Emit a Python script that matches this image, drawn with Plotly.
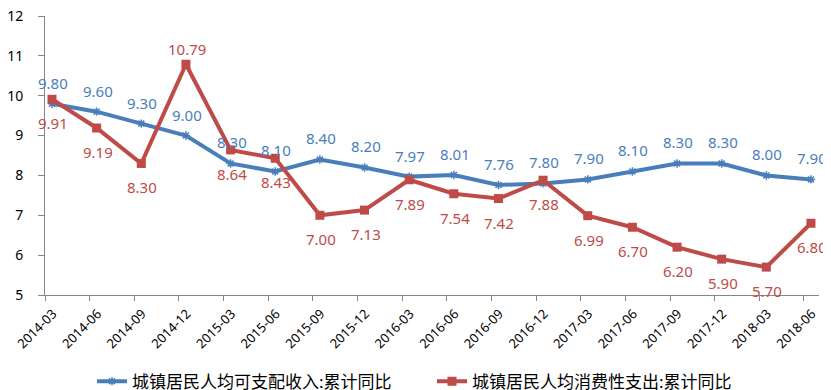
import plotly.graph_objects as go

categories = ["2014-03", "2014-06", "2014-09", "2014-12", "2015-03", "2015-06", "2015-09", "2015-12",
              "2016-03", "2016-06", "2016-09", "2016-12", "2017-03", "2017-06", "2017-09", "2017-12",
              "2018-03", "2018-06"]
income = [9.80, 9.60, 9.30, 9.00, 8.30, 8.10, 8.40, 8.20, 7.97, 8.01, 7.76, 7.80, 7.90, 8.10, 8.30, 8.30, 8.00, 7.90]
spending = [9.91, 9.19, 8.30, 10.79, 8.64, 8.43, 7.00, 7.13, 7.89, 7.54, 7.42, 7.88, 6.99, 6.70, 6.20, 5.90, 5.70, 6.80]
y_ticks = [5, 6, 7, 8, 9, 10, 11, 12]
income_name = "城镇居民人均可支配收入:累计同比"
spending_name = "城镇居民人均消费性支出:累计同比"

BLUE = "#4A7EBB"
RED = "#BE4B48"
FONT = "Noto Sans, Noto Sans CJK SC, sans-serif"

x = list(range(len(categories)))

fig = go.Figure()
fig.add_trace(go.Scatter(
    x=x, y=income, name=income_name, mode="lines+markers",
    line=dict(color=BLUE, width=4),
    marker=dict(symbol="asterisk-open", size=7, color=BLUE, line=dict(color=BLUE, width=1.5)),
    cliponaxis=False,
))
fig.add_trace(go.Scatter(
    x=x, y=spending, name=spending_name, mode="lines+markers",
    line=dict(color=RED, width=4),
    marker=dict(symbol="square", size=9, color=RED),
    cliponaxis=False,
))

annotations = []
for xi, v in zip(x, income):
    annotations.append(dict(x=xi, y=v, text=f"{v:.2f}", showarrow=False, yshift=21, xshift=1,
                            font=dict(color=BLUE, size=15, family=FONT)))
for xi, v in zip(x, spending):
    up = v > 10
    annotations.append(dict(x=xi, y=v, text=f"{v:.2f}", showarrow=False, yshift=15 if up else -24, xshift=1,
                            font=dict(color=RED, size=15, family=FONT)))

fig.update_layout(
    width=831, height=390,
    margin=dict(l=37, r=20, t=8, b=103, autoexpand=False),
    paper_bgcolor="white", plot_bgcolor="white",
    font=dict(family=FONT, color="#000000"),
    showlegend=True,
    annotations=annotations,
    legend=dict(orientation="h", x=0.5, xanchor="center", y=0.042, yanchor="middle",
                yref="container",
                font=dict(size=17, family=FONT), tracegroupgap=0,
                entrywidth=295, entrywidthmode="pixels"),
    xaxis=dict(
        range=[-0.157, 17.18], automargin=False,
        tickvals=[k - 0.157 for k in x], ticktext=categories, tickangle=-45,
        ticklabelshift=8, ticklabeloverflow="allow",
        showgrid=False, zeroline=False, showline=True, linecolor="#868686", linewidth=1,
        ticks="outside", ticklen=5, tickcolor="#868686",
        tickfont=dict(size=13, family=FONT),
    ),
    yaxis=dict(
        range=[5, 12], tickvals=y_ticks, showgrid=False, zeroline=False, automargin=False,
        showline=True, linecolor="#868686", linewidth=1,
        ticks="outside", ticklen=6, tickcolor="#868686",
        ticklabelstandoff=12, ticklabeloverflow="allow",
        tickfont=dict(size=14, family=FONT),
    ),
)

fig.write_html("out.html")
